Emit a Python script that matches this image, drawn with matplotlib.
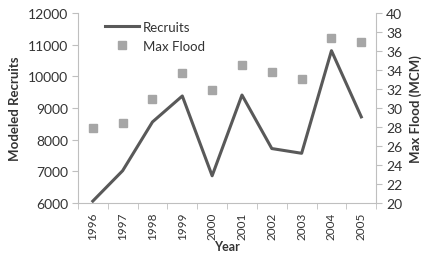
import matplotlib
matplotlib.use("Agg")
import matplotlib.pyplot as plt
from matplotlib.ticker import FixedLocator

years = ["1996", "1997", "1998", "1999", "2000", "2001", "2002", "2003", "2004", "2005"]
recruits = [6060, 7020, 8560, 9380, 6860, 9410, 7720, 7570, 10810, 8720]
max_flood = [27.9, 28.4, 30.9, 33.7, 31.9, 34.5, 33.8, 33.1, 37.4, 37.0]

plt.rcParams['font.family'] = ['Lato', 'DejaVu Sans']
text_c = '#333333'
spine_c = '#bfbfbf'

fig = plt.figure(figsize=(4.28, 2.55), dpi=100)
ax = fig.add_axes([0.182, 0.2, 0.697, 0.745])
ax2 = ax.twinx()

x = list(range(len(years)))
l1, = ax.plot(x, recruits, color='#595959', lw=2.2, label='Recruits', zorder=3)
s1, = ax2.plot(x, max_flood, ls='none', marker='s', ms=5.5, color='#a6a6a6',
               markeredgecolor='#a6a6a6', label='Max Flood')

ax.set_xlim(-0.5, len(years) - 0.5)
ax.set_ylim(6000, 12000)
ax.set_yticks(range(6000, 12001, 1000))
ax2.set_ylim(20, 40)
ax2.set_yticks(range(20, 41, 2))

ax.set_xticks(x)
ax.set_xticklabels(years, rotation=90)
ax.xaxis.set_minor_locator(FixedLocator([i + 0.5 for i in range(-1, len(years))]))
ax.tick_params(axis='x', which='major', length=0, pad=6)
ax.tick_params(axis='x', which='minor', length=4, color=spine_c, direction='out')

for a in (ax, ax2):
    for s in a.spines.values():
        s.set_visible(False)
ax.spines['left'].set_visible(True)
ax.spines['left'].set_color(spine_c)
ax.spines['bottom'].set_visible(True)
ax.spines['bottom'].set_color(spine_c)
ax2.spines['right'].set_visible(True)
ax2.spines['right'].set_color(spine_c)

ax.tick_params(axis='y', length=4, color=spine_c, labelsize=10, labelcolor=text_c, pad=3)
ax.tick_params(axis='x', labelsize=8.5, labelcolor=text_c)
ax2.tick_params(axis='y', length=4, color=spine_c, labelsize=10, labelcolor=text_c, pad=3)

ax.set_ylabel('Modeled Recruits', fontsize=9.5, fontweight='bold', color=text_c, labelpad=5)
ax.set_xlabel('Year', fontsize=9, fontweight='bold', color=text_c, labelpad=1)
ax2.set_ylabel('Max Flood (MCM)', fontsize=9.5, fontweight='bold', color=text_c, labelpad=5)

leg = ax.legend(handles=[l1, s1], loc='upper left', bbox_to_anchor=(0.05, 1.02),
                frameon=False, fontsize=9.5, handlelength=2.6, labelspacing=0.5,
                handletextpad=0.3)
for t in leg.get_texts():
    t.set_color(text_c)

fig.savefig('out.png', dpi=100)
